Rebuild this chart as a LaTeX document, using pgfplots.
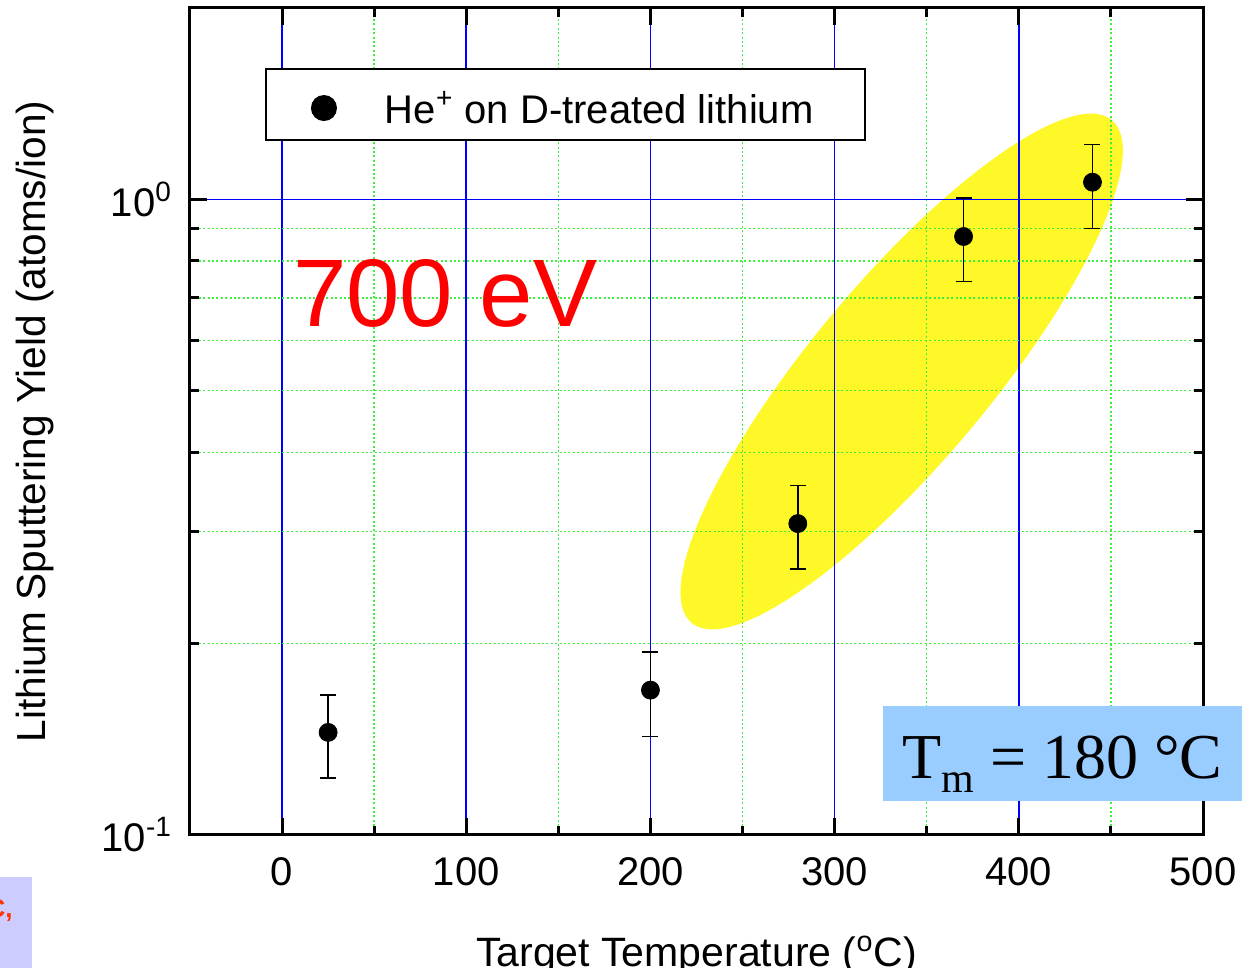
\documentclass[border=0pt]{standalone}
\usepackage{pgfplots}
\pgfplotsset{compat=1.18}
\usepackage{fontspec}
\setmainfont{Liberation Sans}
\newfontfamily\tnr{Liberation Serif}
\definecolor{gridgreen}{RGB}{60,240,60}
\definecolor{gridblue}{RGB}{0,0,255}
\definecolor{tmblue}{RGB}{153,204,255}
\definecolor{lav}{RGB}{204,204,255}
\definecolor{ellyellow}{RGB}{255,248,40}
\definecolor{orred}{RGB}{255,50,0}

\begin{document}
\begin{tikzpicture}
\begin{axis}[
  set layers,
  at={(0pt,0pt)}, anchor=south west,
  scale only axis, width=506.5pt, height=413.5pt,
  xmin=-50, xmax=500, ymode=log, ymin=0.1, ymax=2,
  xtick={0,100,200,300,400,500}, xticklabels={0,100,200,300,400,500},
  minor xtick={50,150,250,350,450},
  ytick={0.1,1}, yticklabels={10\textsuperscript{-1},10\textsuperscript{0}},
  minor ytick={0.2,0.3,0.4,0.5,0.6,0.7,0.8,0.9},
  tick align=inside, tick pos=both,
  major tick length=8.5pt, minor tick length=4.5pt,
  tick style={black, line width=1.5pt},
  axis line style={line width=1.5pt},
  grid=both,
  major grid style={gridblue, line width=0.8pt},
  minor grid style={gridgreen, line width=0.7pt, dash pattern=on 1pt off 1.2pt},
  every axis y grid/.style={},
  ticklabel style={font=\fontsize{20}{23}\selectfont},
  xticklabel style={yshift=-8pt},
  yticklabel style={xshift=-5.5pt},
  every axis x label/.style={at={(axis description cs:0.5,0)}, anchor=base, yshift=-66pt, font=\fontsize{20.5}{23}\selectfont},
  every axis y label/.style={at={(axis description cs:0,0.5)}, xshift=-77.5pt, rotate=90, anchor=center, font=\fontsize{20.3}{23}\selectfont},
  xlabel={Target Temperature (\textsuperscript{o}C)},
  ylabel={Lithium Sputtering Yield (atoms/ion)},
  legend style={at={(axis description cs:0.0740,0.9274)}, anchor=north west,
    draw=black, line width=1pt, fill=white, inner xsep=0pt, inner ysep=0pt,
    font=\fontsize{20}{24}\selectfont, column sep=0pt,
    nodes={inner sep=0pt, text height=27pt, text depth=8.5pt}},
  legend cell align=left,
  legend image code/.code={\path (-28.5pt,0pt) (30pt,0pt); \fill[black] (0pt,-1.75pt) circle (6pt);},
]
\begin{pgfonlayer}{axis background}
\fill[ellyellow, rotate around={50.1:(axis cs:336.4,0.536)}] (axis cs:336.4,0.536) ellipse [x radius=163.8pt, y radius=44.9pt];
\end{pgfonlayer}
\addplot[only marks, mark=*, mark size=4.5pt, black,
  error bars/.cd, y dir=both, y explicit,
  error bar style={line width=0.75pt, black},
  error mark options={rotate=90, mark size=4pt, line width=0.75pt, black}]
  coordinates {
  (25,0.145) += (0,0.021) -= (0,0.022)
  (200,0.169) += (0,0.025) -= (0,0.026)
  (280,0.309) += (0,0.046) -= (0,0.047)
  (370,0.874) += (0,0.130) -= (0,0.131)
  (440,1.064) += (0,0.156) -= (0,0.164)
  };
\addlegendentry{He\textsuperscript{+} on D-treated lithium\hspace*{25.5pt}}
\end{axis}
\node[anchor=base west, inner sep=0pt, text=red, font=\fontsize{48}{50}\selectfont] at (51.3pt,254pt) {700 eV};
\fill[tmblue] (346.5pt,17pt) rectangle (526pt,64.5pt);
\node[anchor=base, inner sep=0pt, font=\tnr\fontsize{32}{34}\selectfont] at (436.25pt,28pt) {T\raisebox{-7pt}{\fontsize{21}{22}\selectfont m} = 180 °C};
\fill[lav] (-95pt,-66.5pt) rectangle (-79pt,-21pt);
\node[anchor=base east, inner sep=0pt, text=orred, font=\bfseries\fontsize{13}{14}\selectfont] at (-88.5pt,-41.5pt) {C,};
\pgfresetboundingbox
\path[use as bounding box] (-95pt,-66.5pt) rectangle (526pt,417.5pt);
\end{tikzpicture}
\end{document}
